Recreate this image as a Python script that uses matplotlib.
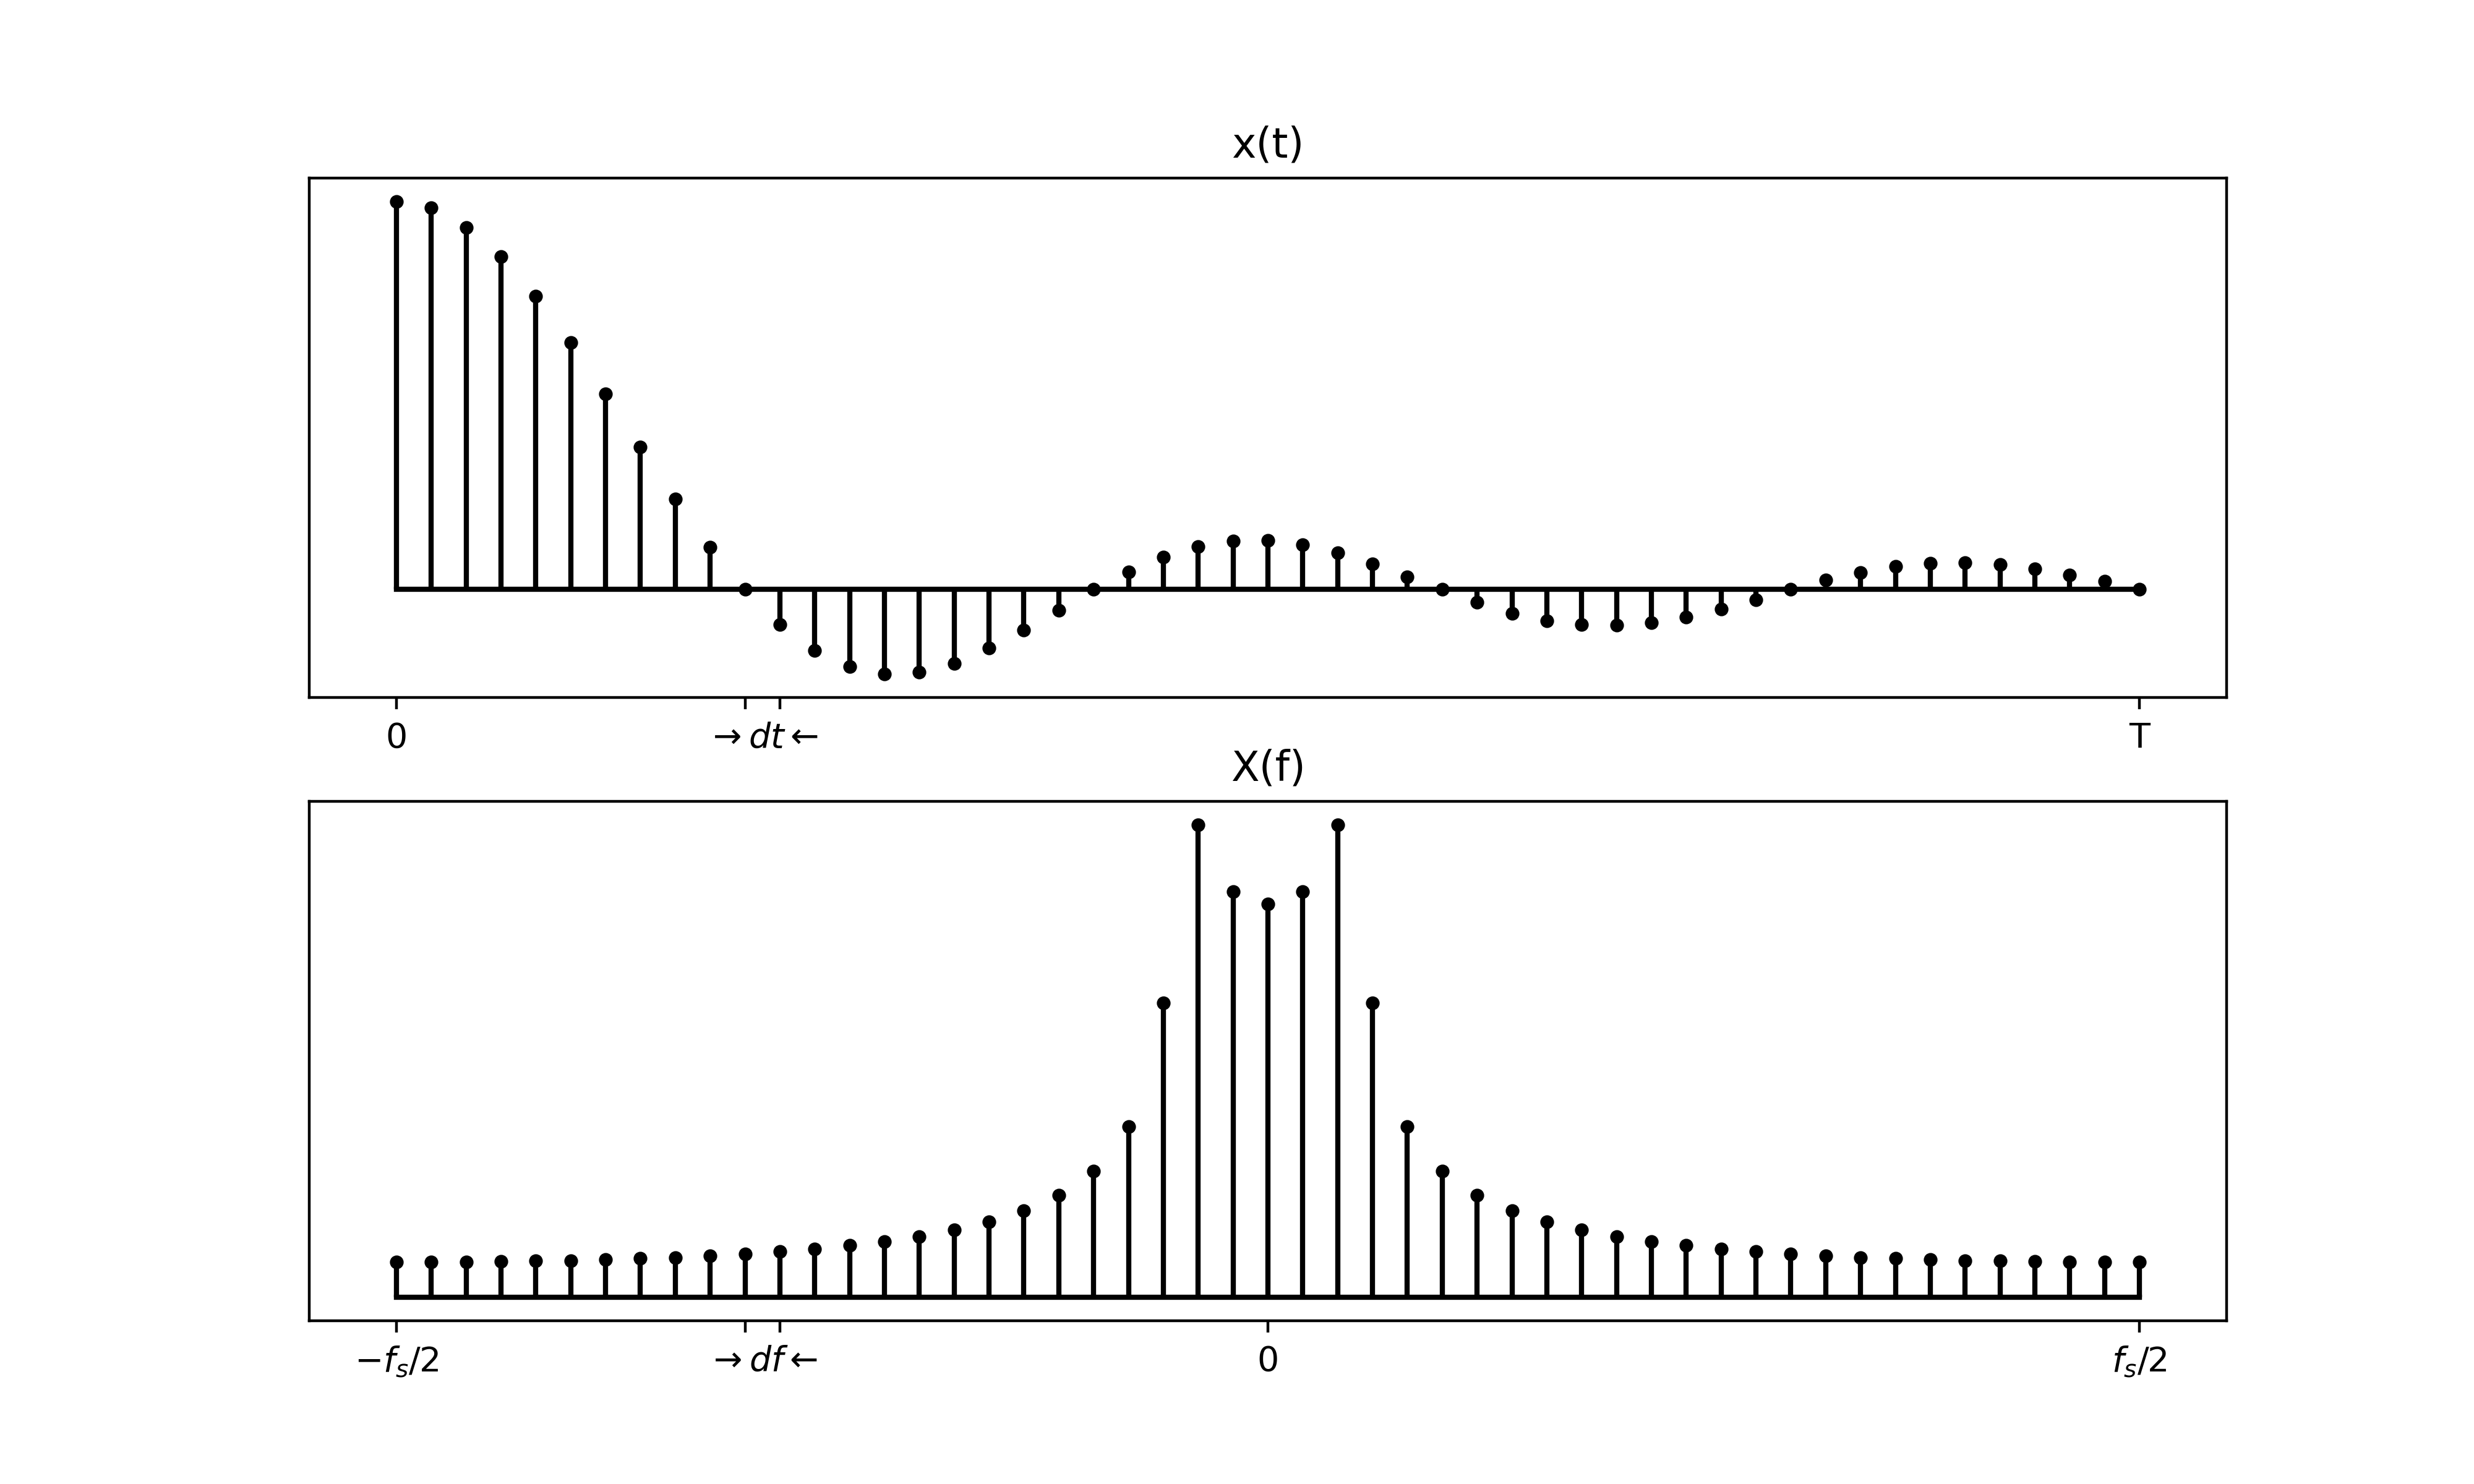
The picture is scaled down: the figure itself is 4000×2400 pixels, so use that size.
import matplotlib.pyplot as plt
import numpy as np

# samples of x(t) (first sample = 1)
x_t = [1.0, 0.984, 0.934, 0.858, 0.756, 0.636, 0.504, 0.367, 0.233, 0.108, 0.0,
       -0.091, -0.158, -0.199, -0.218, -0.213, -0.191, -0.152, -0.105, -0.054, 0.0,
       0.045, 0.083, 0.110, 0.125, 0.127, 0.115, 0.0945, 0.0656, 0.0324, 0.0,
       -0.0332, -0.0612, -0.0805, -0.091, -0.0919, -0.0857, -0.0717, -0.0516, -0.0271, 0.0,
       0.0236, 0.0429, 0.0595, 0.0665, 0.0691, 0.0639, 0.0534, 0.0367, 0.021, 0.0]

# |X(f)| (peak = 1), from -fs/2 to fs/2
X_f = [0.0743, 0.0743, 0.0743, 0.0754, 0.0765, 0.0776, 0.0791, 0.0817, 0.0839, 0.0879,
       0.0920, 0.0968, 0.1015, 0.1096, 0.1177, 0.1280, 0.1428, 0.1597, 0.1832, 0.2163,
       0.2671, 0.3606, 0.6225, 1.0, 0.8587, 0.8322, 0.8587, 1.0, 0.6225, 0.3606,
       0.2671, 0.2163, 0.1832, 0.1597, 0.1428, 0.1280, 0.1177, 0.1096, 0.1015, 0.0968,
       0.0920, 0.0879, 0.0839, 0.0817, 0.0791, 0.0776, 0.0765, 0.0754, 0.0743, 0.0743,
       0.0743]

t_labels = ['0', '', '', 'T']
f_labels = [r'$-f_s/2$', '', '', '0', r'$f_s/2$']

n = np.arange(len(x_t))
k = np.arange(len(X_f)) - len(X_f) // 2

fig, (ax1, ax2) = plt.subplots(2, 1, figsize=(10, 6), dpi=400)

ax1.stem(n, x_t, linefmt='k-', markerfmt='k.', basefmt='k-')
ax1.set_title('x(t)')
ax1.set_yticks([])
ax1.set_xticks([n[0], n[10], n[11], n[-1]], t_labels)
ax1.set_xticks([(n[10] + n[11]) / 2], [r'$\rightarrow dt \leftarrow$'], minor=True)
ax1.tick_params(axis='x', which='minor', length=0, pad=7)

ax2.stem(k, X_f, linefmt='k-', markerfmt='k.', basefmt='k-')
ax2.set_title('X(f)')
ax2.set_yticks([])
ax2.set_xticks([k[0], k[10], k[11], 0, k[-1]], f_labels)
ax2.set_xticks([(k[10] + k[11]) / 2], [r'$\rightarrow df \leftarrow$'], minor=True)
ax2.tick_params(axis='x', which='minor', length=0, pad=7)

plt.savefig('out.png')
